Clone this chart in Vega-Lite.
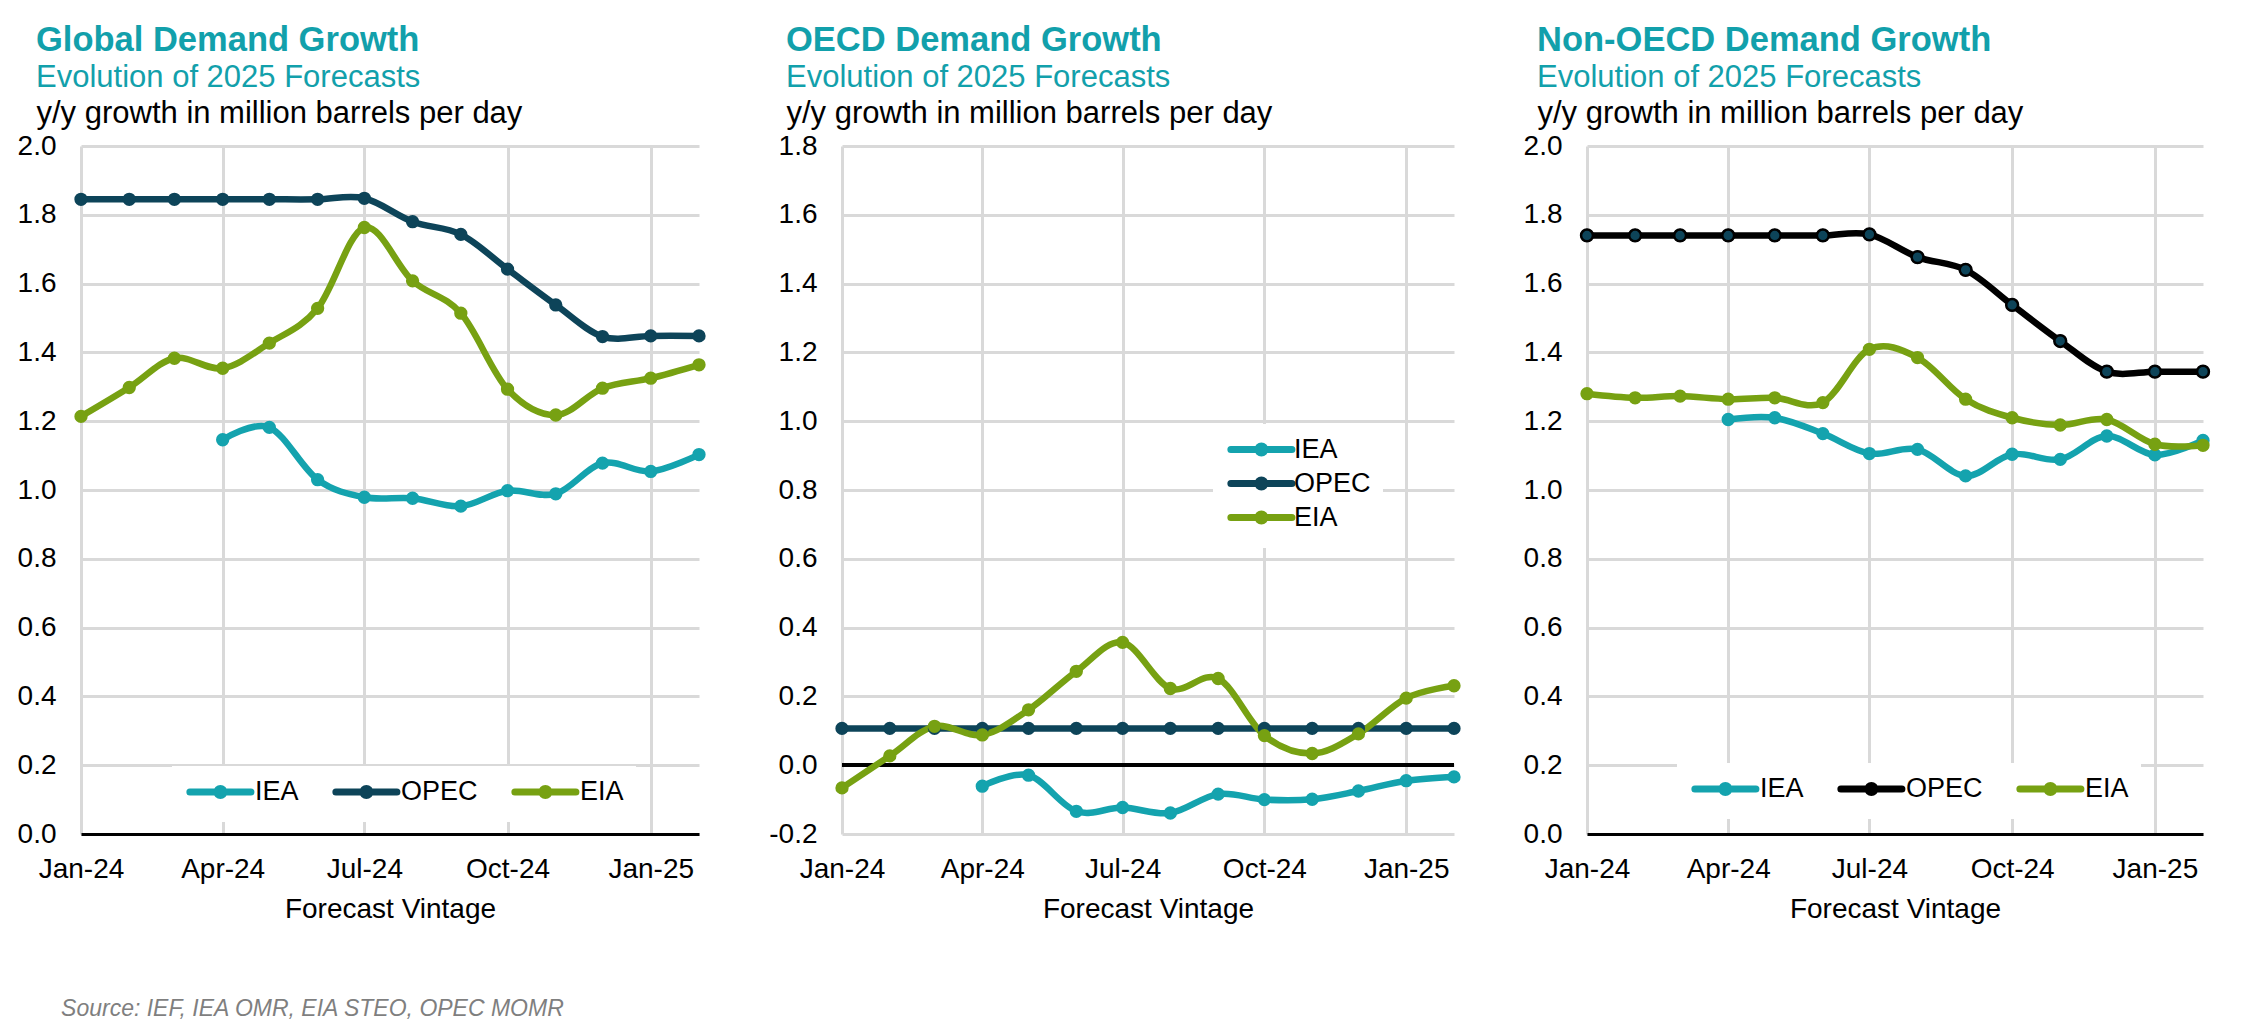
{
  "$schema": "https://vega.github.io/schema/vega-lite/v6.json",
  "background": "white",
  "padding": {"left": 17, "top": 23, "right": 10, "bottom": 6},
  "config": {
    "font": "Liberation Sans",
    "view": {"stroke": null},
    "axis": {"labelFont": "Liberation Sans", "titleFont": "Liberation Sans"}
  },
  "title": {"text": "Source: IEF, IEA OMR, EIA STEO, OPEC MOMR", "orient": "bottom", "anchor": "start", "frame": "bounds", "fontStyle": "italic", "fontWeight": "normal", "fontSize": 23, "color": "#7F7F7F", "dx": 44, "offset": 75},
  "datasets": {
    "global": [
      {"date": "2024-04-01", "series": "IEA", "value": 1.146},
      {"date": "2024-05-01", "series": "IEA", "value": 1.182},
      {"date": "2024-06-01", "series": "IEA", "value": 1.030},
      {"date": "2024-07-01", "series": "IEA", "value": 0.979},
      {"date": "2024-08-01", "series": "IEA", "value": 0.976},
      {"date": "2024-09-01", "series": "IEA", "value": 0.953},
      {"date": "2024-10-01", "series": "IEA", "value": 0.998},
      {"date": "2024-11-01", "series": "IEA", "value": 0.989},
      {"date": "2024-12-01", "series": "IEA", "value": 1.078},
      {"date": "2025-01-01", "series": "IEA", "value": 1.054},
      {"date": "2025-02-01", "series": "IEA", "value": 1.103},
      {"date": "2024-01-01", "series": "OPEC", "value": 1.845},
      {"date": "2024-02-01", "series": "OPEC", "value": 1.845},
      {"date": "2024-03-01", "series": "OPEC", "value": 1.845},
      {"date": "2024-04-01", "series": "OPEC", "value": 1.845},
      {"date": "2024-05-01", "series": "OPEC", "value": 1.845},
      {"date": "2024-06-01", "series": "OPEC", "value": 1.845},
      {"date": "2024-07-01", "series": "OPEC", "value": 1.848},
      {"date": "2024-08-01", "series": "OPEC", "value": 1.780},
      {"date": "2024-09-01", "series": "OPEC", "value": 1.743},
      {"date": "2024-10-01", "series": "OPEC", "value": 1.642},
      {"date": "2024-11-01", "series": "OPEC", "value": 1.538},
      {"date": "2024-12-01", "series": "OPEC", "value": 1.446},
      {"date": "2025-01-01", "series": "OPEC", "value": 1.448},
      {"date": "2025-02-01", "series": "OPEC", "value": 1.448},
      {"date": "2024-01-01", "series": "EIA", "value": 1.214},
      {"date": "2024-02-01", "series": "EIA", "value": 1.298},
      {"date": "2024-03-01", "series": "EIA", "value": 1.383},
      {"date": "2024-04-01", "series": "EIA", "value": 1.354},
      {"date": "2024-05-01", "series": "EIA", "value": 1.427},
      {"date": "2024-06-01", "series": "EIA", "value": 1.528},
      {"date": "2024-07-01", "series": "EIA", "value": 1.763},
      {"date": "2024-08-01", "series": "EIA", "value": 1.608},
      {"date": "2024-09-01", "series": "EIA", "value": 1.514},
      {"date": "2024-10-01", "series": "EIA", "value": 1.293},
      {"date": "2024-11-01", "series": "EIA", "value": 1.218},
      {"date": "2024-12-01", "series": "EIA", "value": 1.296},
      {"date": "2025-01-01", "series": "EIA", "value": 1.325},
      {"date": "2025-02-01", "series": "EIA", "value": 1.364}
    ],
    "oecd": [
      {"date": "2024-04-01", "series": "IEA", "value": -0.061},
      {"date": "2024-05-01", "series": "IEA", "value": -0.029},
      {"date": "2024-06-01", "series": "IEA", "value": -0.134},
      {"date": "2024-07-01", "series": "IEA", "value": -0.123},
      {"date": "2024-08-01", "series": "IEA", "value": -0.139},
      {"date": "2024-09-01", "series": "IEA", "value": -0.084},
      {"date": "2024-10-01", "series": "IEA", "value": -0.100},
      {"date": "2024-11-01", "series": "IEA", "value": -0.099},
      {"date": "2024-12-01", "series": "IEA", "value": -0.075},
      {"date": "2025-01-01", "series": "IEA", "value": -0.045},
      {"date": "2025-02-01", "series": "IEA", "value": -0.034},
      {"date": "2024-01-01", "series": "OPEC", "value": 0.107},
      {"date": "2024-02-01", "series": "OPEC", "value": 0.107},
      {"date": "2024-03-01", "series": "OPEC", "value": 0.107},
      {"date": "2024-04-01", "series": "OPEC", "value": 0.107},
      {"date": "2024-05-01", "series": "OPEC", "value": 0.107},
      {"date": "2024-06-01", "series": "OPEC", "value": 0.107},
      {"date": "2024-07-01", "series": "OPEC", "value": 0.107},
      {"date": "2024-08-01", "series": "OPEC", "value": 0.107},
      {"date": "2024-09-01", "series": "OPEC", "value": 0.107},
      {"date": "2024-10-01", "series": "OPEC", "value": 0.107},
      {"date": "2024-11-01", "series": "OPEC", "value": 0.107},
      {"date": "2024-12-01", "series": "OPEC", "value": 0.107},
      {"date": "2025-01-01", "series": "OPEC", "value": 0.107},
      {"date": "2025-02-01", "series": "OPEC", "value": 0.107},
      {"date": "2024-01-01", "series": "EIA", "value": -0.066},
      {"date": "2024-02-01", "series": "EIA", "value": 0.027},
      {"date": "2024-03-01", "series": "EIA", "value": 0.113},
      {"date": "2024-04-01", "series": "EIA", "value": 0.088},
      {"date": "2024-05-01", "series": "EIA", "value": 0.161},
      {"date": "2024-06-01", "series": "EIA", "value": 0.273},
      {"date": "2024-07-01", "series": "EIA", "value": 0.357},
      {"date": "2024-08-01", "series": "EIA", "value": 0.223},
      {"date": "2024-09-01", "series": "EIA", "value": 0.252},
      {"date": "2024-10-01", "series": "EIA", "value": 0.086},
      {"date": "2024-11-01", "series": "EIA", "value": 0.034},
      {"date": "2024-12-01", "series": "EIA", "value": 0.091},
      {"date": "2025-01-01", "series": "EIA", "value": 0.195},
      {"date": "2025-02-01", "series": "EIA", "value": 0.231}
    ],
    "nonoecd": [
      {"date": "2024-04-01", "series": "IEA", "value": 1.205},
      {"date": "2024-05-01", "series": "IEA", "value": 1.210},
      {"date": "2024-06-01", "series": "IEA", "value": 1.164},
      {"date": "2024-07-01", "series": "IEA", "value": 1.106},
      {"date": "2024-08-01", "series": "IEA", "value": 1.118},
      {"date": "2024-09-01", "series": "IEA", "value": 1.041},
      {"date": "2024-10-01", "series": "IEA", "value": 1.104},
      {"date": "2024-11-01", "series": "IEA", "value": 1.089},
      {"date": "2024-12-01", "series": "IEA", "value": 1.157},
      {"date": "2025-01-01", "series": "IEA", "value": 1.102},
      {"date": "2025-02-01", "series": "IEA", "value": 1.144},
      {"date": "2024-01-01", "series": "OPEC", "value": 1.740},
      {"date": "2024-02-01", "series": "OPEC", "value": 1.740},
      {"date": "2024-03-01", "series": "OPEC", "value": 1.740},
      {"date": "2024-04-01", "series": "OPEC", "value": 1.740},
      {"date": "2024-05-01", "series": "OPEC", "value": 1.740},
      {"date": "2024-06-01", "series": "OPEC", "value": 1.740},
      {"date": "2024-07-01", "series": "OPEC", "value": 1.743},
      {"date": "2024-08-01", "series": "OPEC", "value": 1.677},
      {"date": "2024-09-01", "series": "OPEC", "value": 1.640},
      {"date": "2024-10-01", "series": "OPEC", "value": 1.538},
      {"date": "2024-11-01", "series": "OPEC", "value": 1.433},
      {"date": "2024-12-01", "series": "OPEC", "value": 1.344},
      {"date": "2025-01-01", "series": "OPEC", "value": 1.344},
      {"date": "2025-02-01", "series": "OPEC", "value": 1.344},
      {"date": "2024-01-01", "series": "EIA", "value": 1.280},
      {"date": "2024-02-01", "series": "EIA", "value": 1.268},
      {"date": "2024-03-01", "series": "EIA", "value": 1.273},
      {"date": "2024-04-01", "series": "EIA", "value": 1.264},
      {"date": "2024-05-01", "series": "EIA", "value": 1.268},
      {"date": "2024-06-01", "series": "EIA", "value": 1.254},
      {"date": "2024-07-01", "series": "EIA", "value": 1.409},
      {"date": "2024-08-01", "series": "EIA", "value": 1.385},
      {"date": "2024-09-01", "series": "EIA", "value": 1.264},
      {"date": "2024-10-01", "series": "EIA", "value": 1.210},
      {"date": "2024-11-01", "series": "EIA", "value": 1.189},
      {"date": "2024-12-01", "series": "EIA", "value": 1.205},
      {"date": "2025-01-01", "series": "EIA", "value": 1.133},
      {"date": "2025-02-01", "series": "EIA", "value": 1.130}
    ]
  },
  "resolve": {"scale": {"x": "independent", "y": "independent", "color": "independent"}, "legend": {"color": "independent"}},
  "spacing": 56,
  "hconcat": [
    {
      "width": 618, "height": 688,
      "title": {"text": "Global Demand Growth", "subtitle": "Evolution of 2025 Forecasts", "anchor": "start", "frame": "group", "dx": -45, "offset": 3, "fontSize": 34.5, "fontWeight": "bold", "color": "#12A0AB", "subtitleColor": "#12A0AB", "subtitleFontSize": 31, "subtitlePadding": 4.5},
      "data": {"name": "global"},
      "encoding": {
        "x": {"field": "date", "type": "temporal",
          "scale": {"type": "utc", "nice": false, "domain": [{"year": 2024, "month": 1, "date": 1, "utc": true}, {"year": 2025, "month": 2, "date": 1, "utc": true}]},
          "axis": {"values": [{"year": 2024, "month": 1, "date": 1, "utc": true}, {"year": 2024, "month": 4, "date": 1, "utc": true}, {"year": 2024, "month": 7, "date": 1, "utc": true}, {"year": 2024, "month": 10, "date": 1, "utc": true}, {"year": 2025, "month": 1, "date": 1, "utc": true}],
            "labelExpr": "utcFormat(datum.value, '%b-%y')", "labelFontSize": 28, "labelColor": "black", "labelFlush": false, "labelPadding": 21, "ticks": false,
            "domain": true, "domainColor": "black", "domainWidth": 3,
            "grid": true, "gridColor": "#D9D9D9", "gridWidth": 3,
            "title": "Forecast Vintage", "titleFontSize": 28, "titleFontWeight": "normal", "titleColor": "black", "titlePadding": 12}},
        "y": {"field": "value", "type": "quantitative",
          "scale": {"domain": [0, 2], "nice": false, "zero": false},
          "axis": {"values": [0, 0.2, 0.4, 0.6, 0.8, 1.0, 1.2, 1.4, 1.6, 1.8, 2.0], "format": ".1f", "labelFontSize": 28, "labelColor": "black", "labelPadding": 25, "ticks": false, "domain": false,
            "grid": true, "gridColor": "#D9D9D9", "gridWidth": 3,
            "title": "y/y growth in million barrels per day", "titleAngle": 0, "titleAlign": "left", "titleBaseline": "alphabetic", "titleX": -45, "titleY": -24, "titleFontSize": 31, "titleFontWeight": "normal", "titleColor": "black"}},
        "color": {"field": "series", "type": "nominal",
          "scale": {"domain": ["IEA", "OPEC", "EIA"], "range": ["#14A3AE", "#0D4459", "#77A112"]},
          "legend": {"title": null, "orient": "none", "direction": "horizontal", "legendX": 91, "legendY": 620, "fillColor": "white", "padding": 12,
            "symbolType": "M-1,0H7M2.54,0A0.46,0.46 0 1,0 3.46,0A0.46,0.46 0 1,0 2.54,0", "symbolSize": 233, "symbolStrokeWidth": 7,
            "labelFontSize": 27, "labelColor": "black", "labelOffset": 44, "columnPadding": 22, "labelLimit": 300,
            "encode": {"symbols": {"update": {
              "fill": {"signal": "datum.value === 'IEA' ? '#14A3AE' : datum.value === 'OPEC' ? '#0D4459' : '#77A112'"},
              "stroke": {"signal": "datum.value === 'IEA' ? '#14A3AE' : datum.value === 'OPEC' ? '#0D4459' : '#77A112'"},
              "opacity": {"value": 1}, "strokeCap": {"value": "round"}}}}}}
      },
      "layer": [
        {"mark": {"type": "line", "strokeWidth": 6.5, "interpolate": "cardinal"}},
        {"mark": {"type": "point", "filled": true, "size": 177, "opacity": 1}}
      ]
    },
    {
      "width": 612, "height": 688,
      "title": {"text": "OECD Demand Growth", "subtitle": "Evolution of 2025 Forecasts", "anchor": "start", "frame": "group", "dx": -56, "offset": 3, "fontSize": 34.5, "fontWeight": "bold", "color": "#12A0AB", "subtitleColor": "#12A0AB", "subtitleFontSize": 31, "subtitlePadding": 4.5},
      "data": {"name": "oecd"},
      "encoding": {
        "x": {"field": "date", "type": "temporal",
          "scale": {"type": "utc", "nice": false, "domain": [{"year": 2024, "month": 1, "date": 1, "utc": true}, {"year": 2025, "month": 2, "date": 1, "utc": true}]},
          "axis": {"values": [{"year": 2024, "month": 1, "date": 1, "utc": true}, {"year": 2024, "month": 4, "date": 1, "utc": true}, {"year": 2024, "month": 7, "date": 1, "utc": true}, {"year": 2024, "month": 10, "date": 1, "utc": true}, {"year": 2025, "month": 1, "date": 1, "utc": true}],
            "labelExpr": "utcFormat(datum.value, '%b-%y')", "labelFontSize": 28, "labelColor": "black", "labelFlush": false, "labelPadding": 21, "ticks": false,
            "domain": false,
            "grid": true, "gridColor": "#D9D9D9", "gridWidth": 3,
            "title": "Forecast Vintage", "titleFontSize": 28, "titleFontWeight": "normal", "titleColor": "black", "titlePadding": 12}},
        "y": {"field": "value", "type": "quantitative",
          "scale": {"domain": [-0.2, 1.8], "nice": false, "zero": false},
          "axis": {"values": [-0.2, 0, 0.2, 0.4, 0.6, 0.8, 1.0, 1.2, 1.4, 1.6, 1.8], "labelExpr": "replace(format(datum.value, '.1f'), '\u2212', '-')", "labelFontSize": 28, "labelColor": "black", "labelPadding": 25, "ticks": false, "domain": false,
            "grid": true, "gridColor": "#D9D9D9", "gridWidth": 3,
            "title": "y/y growth in million barrels per day", "titleAngle": 0, "titleAlign": "left", "titleBaseline": "alphabetic", "titleX": -56, "titleY": -24, "titleFontSize": 31, "titleFontWeight": "normal", "titleColor": "black"}},
        "color": {"field": "series", "type": "nominal",
          "scale": {"domain": ["IEA", "OPEC", "EIA"], "range": ["#14A3AE", "#0D4459", "#77A112"]},
          "legend": {"title": null, "orient": "none", "direction": "vertical", "legendX": 371, "legendY": 278, "fillColor": "white", "padding": 12,
            "symbolType": "M-1,0H7M2.54,0A0.46,0.46 0 1,0 3.46,0A0.46,0.46 0 1,0 2.54,0", "symbolSize": 233, "symbolStrokeWidth": 7,
            "labelFontSize": 27, "labelColor": "black", "labelOffset": 42, "rowPadding": -3, "labelLimit": 300,
            "encode": {"symbols": {"update": {
              "fill": {"signal": "datum.value === 'IEA' ? '#14A3AE' : datum.value === 'OPEC' ? '#0D4459' : '#77A112'"},
              "stroke": {"signal": "datum.value === 'IEA' ? '#14A3AE' : datum.value === 'OPEC' ? '#0D4459' : '#77A112'"},
              "opacity": {"value": 1}, "strokeCap": {"value": "round"}}}}}}
      },
      "layer": [
        {"mark": {"type": "rule", "color": "black", "strokeWidth": 3.5}, "encoding": {"y": {"datum": 0}, "x": null, "color": null}},
        {"mark": {"type": "line", "strokeWidth": 6.5, "interpolate": "cardinal"}},
        {"mark": {"type": "point", "filled": true, "size": 177, "opacity": 1}}
      ]
    },
    {
      "width": 616, "height": 688,
      "title": {"text": "Non-OECD Demand Growth", "subtitle": "Evolution of 2025 Forecasts", "anchor": "start", "frame": "group", "dx": -50, "offset": 3, "fontSize": 34.5, "fontWeight": "bold", "color": "#12A0AB", "subtitleColor": "#12A0AB", "subtitleFontSize": 31, "subtitlePadding": 4.5},
      "data": {"name": "nonoecd"},
      "encoding": {
        "x": {"field": "date", "type": "temporal",
          "scale": {"type": "utc", "nice": false, "domain": [{"year": 2024, "month": 1, "date": 1, "utc": true}, {"year": 2025, "month": 2, "date": 1, "utc": true}]},
          "axis": {"values": [{"year": 2024, "month": 1, "date": 1, "utc": true}, {"year": 2024, "month": 4, "date": 1, "utc": true}, {"year": 2024, "month": 7, "date": 1, "utc": true}, {"year": 2024, "month": 10, "date": 1, "utc": true}, {"year": 2025, "month": 1, "date": 1, "utc": true}],
            "labelExpr": "utcFormat(datum.value, '%b-%y')", "labelFontSize": 28, "labelColor": "black", "labelFlush": false, "labelPadding": 21, "ticks": false,
            "domain": true, "domainColor": "black", "domainWidth": 3,
            "grid": true, "gridColor": "#D9D9D9", "gridWidth": 3,
            "title": "Forecast Vintage", "titleFontSize": 28, "titleFontWeight": "normal", "titleColor": "black", "titlePadding": 12}},
        "y": {"field": "value", "type": "quantitative",
          "scale": {"domain": [0, 2], "nice": false, "zero": false},
          "axis": {"values": [0, 0.2, 0.4, 0.6, 0.8, 1.0, 1.2, 1.4, 1.6, 1.8, 2.0], "format": ".1f", "labelFontSize": 28, "labelColor": "black", "labelPadding": 25, "ticks": false, "domain": false,
            "grid": true, "gridColor": "#D9D9D9", "gridWidth": 3,
            "title": "y/y growth in million barrels per day", "titleAngle": 0, "titleAlign": "left", "titleBaseline": "alphabetic", "titleX": -50, "titleY": -24, "titleFontSize": 31, "titleFontWeight": "normal", "titleColor": "black"}},
        "color": {"field": "series", "type": "nominal",
          "scale": {"domain": ["IEA", "OPEC", "EIA"], "range": ["#14A3AE", "#000000", "#77A112"]},
          "legend": {"title": null, "orient": "none", "direction": "horizontal", "legendX": 90, "legendY": 617, "fillColor": "white", "padding": 12,
            "symbolType": "M-1,0H7M2.54,0A0.46,0.46 0 1,0 3.46,0A0.46,0.46 0 1,0 2.54,0", "symbolSize": 233, "symbolStrokeWidth": 7,
            "labelFontSize": 27, "labelColor": "black", "labelOffset": 44, "columnPadding": 22, "labelLimit": 300,
            "encode": {"symbols": {"update": {
              "fill": {"signal": "datum.value === 'IEA' ? '#14A3AE' : datum.value === 'OPEC' ? '#0D4459' : '#77A112'"},
              "stroke": {"signal": "datum.value === 'IEA' ? '#14A3AE' : datum.value === 'OPEC' ? '#000000' : '#77A112'"},
              "opacity": {"value": 1}, "strokeCap": {"value": "round"}}}}}}
      },
      "layer": [
        {"mark": {"type": "line", "strokeWidth": 6.5, "interpolate": "cardinal"}},
        {"mark": {"type": "point", "filled": true, "size": 177, "opacity": 1}},
        {"transform": [{"filter": "datum.series === 'OPEC'"}], "mark": {"type": "point", "filled": true, "size": 140, "opacity": 1, "fill": "#0D4459", "stroke": "black", "strokeWidth": 2.5}, "encoding": {"color": null}}
      ]
    }
  ]
}
